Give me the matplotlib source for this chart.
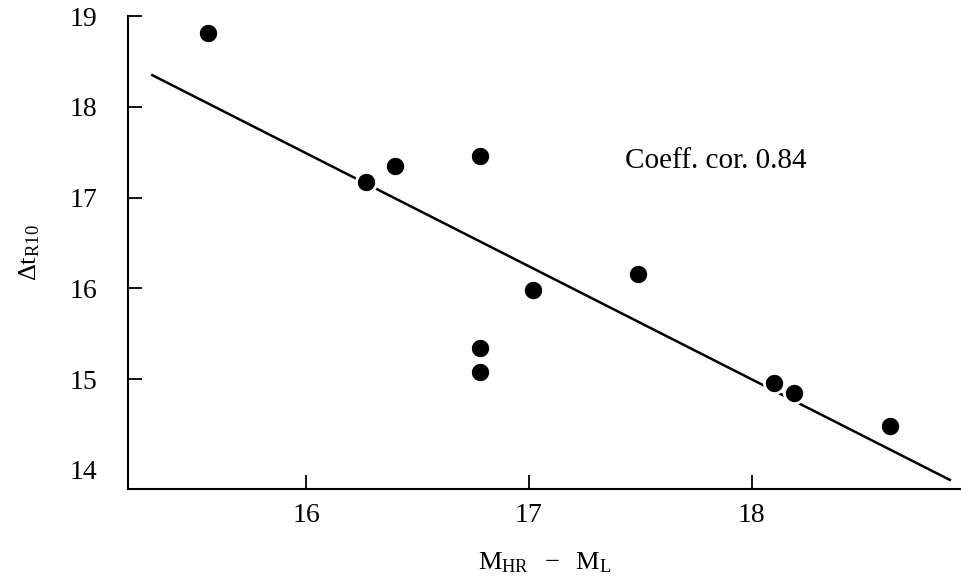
from matplotlib import pyplot as plt

# data
m_diff = [15.56, 16.27, 16.40, 16.78, 17.02, 17.49, 16.78, 16.78, 18.10, 18.19, 18.62]
dt_r10 = [18.81, 17.17, 17.35, 17.46, 15.98, 16.16, 15.34, 15.08, 14.96, 14.85, 14.48]

fit_x = [15.31, 18.89]
fit_y = [18.35, 13.89]

xticks = [16, 17, 18]
yticks = [14, 15, 16, 17, 18, 19]

plt.rcParams['font.family'] = ['Liberation Serif', 'DejaVu Serif']
plt.rcParams['mathtext.fontset'] = 'custom'
plt.rcParams['mathtext.rm'] = 'Liberation Serif'
plt.rcParams['mathtext.it'] = 'Liberation Serif:italic'

fig = plt.figure(figsize=(9.61, 5.78), dpi=100)
ax = fig.add_axes([0.133, 0.154, 0.867, 0.818])

ax.plot(fit_x, fit_y, color='black', lw=1.8, zorder=1)
ax.scatter(m_diff, dt_r10, s=210, color='black', edgecolors='white', linewidths=2.0, zorder=2)

ax.set_xlim(15.2, 18.94)
ax.set_ylim(13.79, 19.0)
ax.set_xticks(xticks)
ax.set_yticks(yticks)
ax.tick_params(direction='in', length=10, width=1.3, labelsize=20)
ax.tick_params(axis='y', pad=22)
ax.tick_params(axis='x', pad=10)
ax.yaxis.get_major_ticks()[0].tick1line.set_visible(False)
for s in ['top', 'right']:
    ax.spines[s].set_visible(False)
for s in ['left', 'bottom']:
    ax.spines[s].set_linewidth(1.5)

ax.text(17.43, 17.4, 'Coeff. cor. 0.84', fontsize=21, va='center', ha='left')

ax.set_xlabel(r'$\mathrm{M_{HR}\ \ -\ \ M_L}$', fontsize=19, labelpad=16)
ax.set_ylabel(r'$\mathrm{\Delta t_{R10}}$', fontsize=19, labelpad=20)

plt.savefig('out.png', dpi=100, facecolor='white')
